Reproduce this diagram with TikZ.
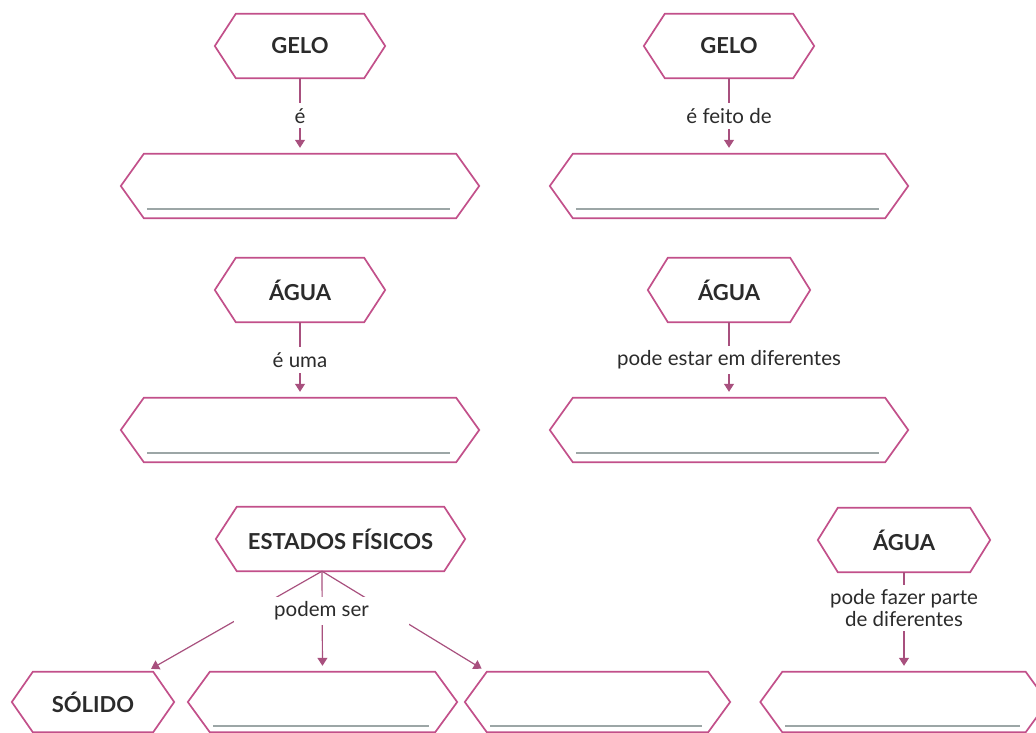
\documentclass[tikz,border=0pt]{standalone}
\usepackage{fontspec}
\setmainfont{Lato}
\usetikzlibrary{arrows.meta}
\definecolor{borda}{HTML}{C2508A}
\definecolor{seta}{HTML}{A8507E}
\definecolor{linha}{HTML}{9CA6A6}
\definecolor{texto}{HTML}{2B2B2B}

\tikzset{
  conceito/.style={minimum height=64pt, inner sep=0pt, text=texto, font=\bfseries\fontsize{22}{24}\selectfont},
  resposta/.style={minimum height=64pt, inner sep=0pt},
  ligacao/.style={draw=seta, line width=1.2pt, -{Triangle[width=10pt,length=8pt]}, shorten >=6pt},
  rotulo/.style={fill=white, inner xsep=2pt, inner ysep=5pt, text=texto, font=\fontsize{20.5}{22}\selectfont},
  hexa/.style={draw=borda, line width=1.7pt, line join=miter},
  gabarito/.style={draw=linha, line width=1.8pt},
}

\begin{document}
\begin{tikzpicture}[x=1pt, y=1pt]
    \useasboundingbox (0,0) rectangle (1036,732);
    % Nodes
    \node[conceito, minimum width=128pt] (gelo1) at (300,686) {GELO};
    \node[conceito, minimum width=128pt] (gelo2) at (729,686) {GELO};
    \node[resposta, minimum width=312pt] (resp1) at (300,546) {};
    \node[resposta, minimum width=312pt] (resp2) at (729,546) {};
    \node[conceito, minimum width=128pt] (agua1) at (300,442) {ÁGUA};
    \node[conceito, minimum width=122pt] (agua2) at (729,442) {ÁGUA};
    \node[resposta, minimum width=312pt] (resp3) at (300,302) {};
    \node[resposta, minimum width=312pt] (resp4) at (729,302) {};
    \node[conceito, minimum width=207pt] (estados) at (340.5,193) {ESTADOS FÍSICOS};
    \node[conceito, minimum width=132pt] (agua3) at (904,192) {ÁGUA};
    \node[conceito, minimum width=120pt, minimum height=60pt] (solido) at (93,30) {SÓLIDO};
    \node[resposta, minimum width=225pt, minimum height=60pt] (resp5) at (322.5,30) {};
    \node[resposta, minimum width=221pt, minimum height=60pt] (resp6) at (597.5,30) {};
    \node[resposta, minimum width=243pt, minimum height=60pt] (resp7) at (904,30) {};
    \coordinate (fork) at ([xshift=-18.5pt]estados.south);
    % Hexagons
    \foreach \n/\d in {gelo1/21, gelo2/21, agua1/21, agua2/20, estados/21, agua3/20, solido/21,
                       resp1/23, resp2/23, resp3/23, resp4/23, resp5/22, resp6/22, resp7/22}
      \draw[hexa] (\n.north west) -- (\n.north east) -- ([xshift=\d pt]\n.east)
        -- (\n.south east) -- (\n.south west) -- ([xshift=-\d pt]\n.west) -- cycle;
    % Answer lines
    \foreach \n/\g in {resp1/9, resp2/9, resp3/9, resp4/9, resp5/6, resp6/6, resp7/6}
      \draw[gabarito] ([shift={(3pt,\g pt)}]\n.south west) -- ([shift={(-6pt,\g pt)}]\n.south east);
    % Links
    \draw[ligacao] (gelo1) -- (resp1) node[rotulo, midway] {é};
    \draw[ligacao] (gelo2) -- (resp2) node[rotulo, midway] {é feito de};
    \draw[ligacao] (agua1) -- (resp3) node[rotulo, midway] {é uma};
    \draw[ligacao] (agua2) -- (resp4) node[rotulo, midway] {pode estar em diferentes};
    \draw[ligacao] (agua3) -- (resp7) node[rotulo, pos=0.36, align=center, inner ysep=4pt] {pode fazer parte\\de diferentes};
    \draw[ligacao] (fork) -- (solido);
    \draw[ligacao] (fork) -- (resp5.north);
    \draw[ligacao] (fork) -- (resp6.north west);
    \node[rotulo, inner xsep=40pt] (podem) at (321.5,121) {podem ser};
\end{tikzpicture}
\end{document}
